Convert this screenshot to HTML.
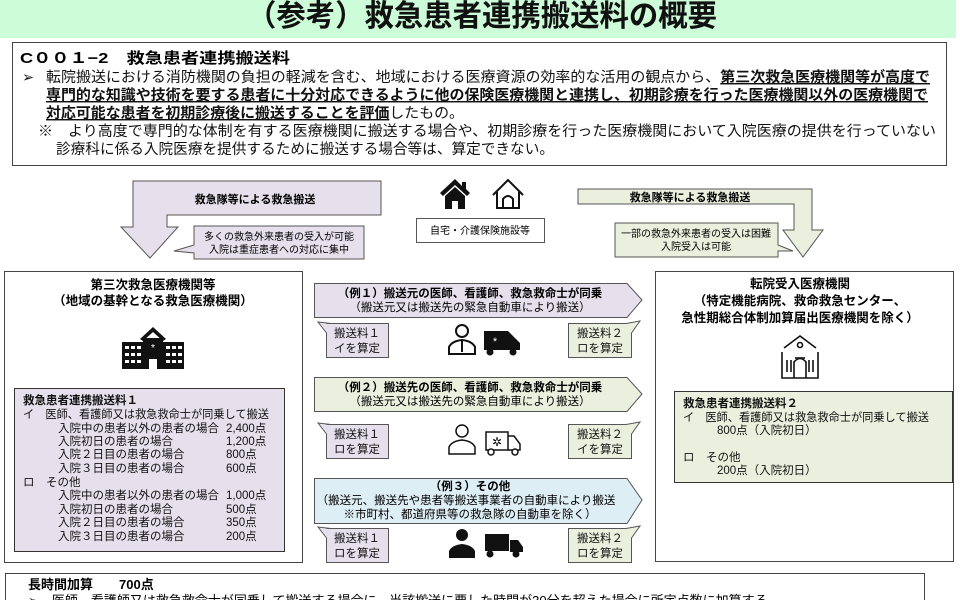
<!DOCTYPE html>
<html><head><meta charset="utf-8">
<style>
html,body{margin:0;padding:0;background:#fff;}
svg{display:block;font-family:"Liberation Sans","Noto Sans CJK JP",sans-serif;}
</style></head><body>
<svg width="960" height="600" viewBox="0 0 960 600" xmlns="http://www.w3.org/2000/svg">
<rect x="0" y="0" width="956" height="38" fill="#ccfcd8"/>
<text x="482" y="26" font-size="30" font-weight="bold" text-anchor="middle" fill="#111" textLength="470" lengthAdjust="spacingAndGlyphs">（参考）救急患者連携搬送料の概要</text>
<rect x="12.5" y="42.5" width="934" height="123" fill="#fff" stroke="#444"/>
<text x="20" y="63" font-size="15" font-weight="bold" textLength="270" lengthAdjust="spacingAndGlyphs">C００１−2　救急患者連携搬送料</text>
<g font-size="14.5" fill="#111">
<text x="22" y="82">➢</text>
<text x="46" y="82" textLength="884" lengthAdjust="spacingAndGlyphs">転院搬送における消防機関の負担の軽減を含む、地域における医療資源の効率的な活用の観点から、<tspan font-weight="bold" text-decoration="underline">第三次救急医療機関等が高度で</tspan></text>
<text x="46" y="100" font-weight="bold" text-decoration="underline" textLength="882" lengthAdjust="spacingAndGlyphs">専門的な知識や技術を要する患者に十分対応できるように他の保険医療機関と連携し、初期診療を行った医療機関以外の医療機関で</text>
<text x="46" y="118" textLength="418" lengthAdjust="spacingAndGlyphs"><tspan font-weight="bold" text-decoration="underline">対応可能な患者を初期診療後に搬送することを評価</tspan>したもの。</text>
<text x="38" y="136" textLength="898" lengthAdjust="spacingAndGlyphs">※　より高度で専門的な体制を有する医療機関に搬送する場合や、初期診療を行った医療機関において入院医療の提供を行っていない</text>
<text x="56" y="154" textLength="498" lengthAdjust="spacingAndGlyphs">診療科に係る入院医療を提供するために搬送する場合等は、算定できない。</text>
</g>
<path d="M381,181 L381,215 L167,215 L167,227 L178,227 L150,258 L121,227 L133,227 L133,181 Z" fill="#e6e0ec" stroke="#555"/>
<text x="255" y="203" font-size="11" font-weight="bold" text-anchor="middle">救急隊等による救急搬送</text>
<path d="M194,226 L364,226 L364,259 L194,259 L194,253 L174,251 L194,245 Z" fill="#e6e0ec" stroke="#555"/>
<text x="279" y="240" font-size="10" text-anchor="middle">多くの救急外来患者の受入が可能</text>
<text x="279" y="253" font-size="10" text-anchor="middle">入院は重症患者への対応に集中</text>
<g fill="#111">
<path d="M455,179 L440,193 L443,196 L455,185 L467,196 L470,193 L466,189 L466,182 L462,182 L462,186 Z"/>
<path d="M445,196 L455,187 L465,196 L465,209 L458,209 L458,201 L452,201 L452,209 L445,209 Z"/>
</g>
<g fill="none" stroke="#111" stroke-width="2">
<path d="M493,195 L508,180 L523,195"/>
<path d="M497,192 L497,208 L519,208 L519,192"/>
<path d="M503,208 L503,199 Q508,193 513,199 L513,208"/>
</g>
<rect x="416.5" y="218.5" width="128" height="24" fill="#fff" stroke="#555"/>
<text x="480" y="234" font-size="10" text-anchor="middle">自宅・介護保険施設等</text>
<path d="M578,189 L812,189 L812,230 L823,230 L803,257 L783,230 L794,230 L794,204 L578,204 Z" fill="#ebf0de" stroke="#555"/>
<text x="690" y="201" font-size="11" font-weight="bold" text-anchor="middle">救急隊等による救急搬送</text>
<path d="M615,223 L778,223 L778,245 L793,251 L778,251 L778,257 L615,257 Z" fill="#ebf0de" stroke="#555"/>
<text x="696" y="237" font-size="10" text-anchor="middle">一部の救急外来患者の受入は困難</text>
<text x="696" y="250" font-size="10" text-anchor="middle">入院受入は可能</text>
<rect x="4.5" y="271.5" width="298" height="291" fill="#fff" stroke="#444"/>
<text x="153" y="289" font-size="12.5" font-weight="bold" text-anchor="middle">第三次救急医療機関等</text>
<text x="153" y="305" font-size="12.5" font-weight="bold" text-anchor="middle">（地域の基幹となる救急医療機関）</text>
<g fill="#111">
<path d="M153,327 L140,339 L143,341 L153,332 L163,341 L166,339 Z"/>
<rect x="122" y="342" width="21" height="27"/>
<rect x="163" y="342" width="21" height="27"/>
<rect x="143" y="338" width="20" height="31"/>
</g>
<g fill="#fff">
<rect x="125" y="346" width="4" height="3"/><rect x="131" y="346" width="4" height="3"/><rect x="137" y="346" width="4" height="3"/>
<rect x="125" y="353" width="4" height="3"/><rect x="131" y="353" width="4" height="3"/><rect x="137" y="353" width="4" height="3"/>
<rect x="125" y="360" width="4" height="3"/><rect x="131" y="360" width="4" height="3"/><rect x="137" y="360" width="4" height="3"/>
<rect x="166" y="346" width="4" height="3"/><rect x="172" y="346" width="4" height="3"/><rect x="178" y="346" width="4" height="3"/>
<rect x="166" y="353" width="4" height="3"/><rect x="172" y="353" width="4" height="3"/><rect x="178" y="353" width="4" height="3"/>
<rect x="166" y="360" width="4" height="3"/><rect x="172" y="360" width="4" height="3"/><rect x="178" y="360" width="4" height="3"/>
<rect x="149" y="359" width="8" height="10"/>
<text x="153" y="351" font-size="10" text-anchor="middle">*</text>
</g>
<rect x="14.5" y="388.5" width="270" height="163" fill="#e6e0ec" stroke="#333"/>
<g font-size="11.5" fill="#111">
<text x="23" y="404" font-weight="bold">救急患者連携搬送料１</text>
<text x="23" y="418" textLength="246" lengthAdjust="spacingAndGlyphs">イ　医師、看護師又は救急救命士が同乗して搬送</text>
<text x="58" y="432">入院中の患者以外の患者の場合</text><text x="226" y="432">2,400点</text>
<text x="58" y="445">入院初日の患者の場合</text><text x="226" y="445">1,200点</text>
<text x="58" y="458">入院２日目の患者の場合</text><text x="226" y="458">800点</text>
<text x="58" y="472">入院３日目の患者の場合</text><text x="226" y="472">600点</text>
<text x="23" y="486">ロ　その他</text>
<text x="58" y="499">入院中の患者以外の患者の場合</text><text x="226" y="499">1,000点</text>
<text x="58" y="513">入院初日の患者の場合</text><text x="226" y="513">500点</text>
<text x="58" y="526">入院２日目の患者の場合</text><text x="226" y="526">350点</text>
<text x="58" y="540">入院３日目の患者の場合</text><text x="226" y="540">200点</text>
</g>
<path d="M314.5,283.5 L627,283.5 L642,300 L627,317.5 L314.5,317.5 Z" fill="#e6e0ec" stroke="#555"/>
<text x="470" y="297" font-size="11.5" font-weight="bold" text-anchor="middle">（例１）搬送元の医師、看護師、救急救命士が同乗</text>
<text x="470" y="311" font-size="11.5" text-anchor="middle">（搬送元又は搬送先の緊急自動車により搬送）</text>
<path d="M314.5,377.5 L627,377.5 L642,394 L627,411.5 L314.5,411.5 Z" fill="#ebf0de" stroke="#555"/>
<text x="470" y="391" font-size="11.5" font-weight="bold" text-anchor="middle">（例２）搬送先の医師、看護師、救急救命士が同乗</text>
<text x="470" y="405" font-size="11.5" text-anchor="middle">（搬送元又は搬送先の緊急自動車により搬送）</text>
<path d="M314.5,478.5 L627,478.5 L642,500 L627,523.5 L314.5,523.5 Z" fill="#deeef5" stroke="#555"/>
<text x="470" y="490" font-size="11.5" font-weight="bold" text-anchor="middle">（例３）その他</text>
<text x="466" y="504" font-size="11.5" text-anchor="middle">（搬送元、搬送先や患者等搬送事業者の自動車により搬送</text>
<text x="470" y="518" font-size="11.5" text-anchor="middle">※市町村、都道府県等の救急隊の自動車を除く）</text>
<g stroke="#555">
<path d="M326.5,323.5 L388.5,323.5 L388.5,357.5 L326.5,357.5 L326.5,333 L318,322 L331,323.5 Z" fill="#e6e0ec"/>
<path d="M568.5,323.5 L626,323.5 L640,321 L631.5,333 L631.5,357.5 L568.5,357.5 Z" fill="#ebf0de"/>
<path d="M326.5,424.5 L388.5,424.5 L388.5,458.5 L326.5,458.5 L326.5,434 L318,423 L331,424.5 Z" fill="#e6e0ec"/>
<path d="M568.5,424.5 L626,424.5 L640,422 L631.5,434 L631.5,458.5 L568.5,458.5 Z" fill="#ebf0de"/>
<path d="M326.5,528.5 L388.5,528.5 L388.5,562.5 L326.5,562.5 L326.5,538 L318,527 L331,528.5 Z" fill="#e6e0ec"/>
<path d="M568.5,528.5 L626,528.5 L640,526 L631.5,538 L631.5,562.5 L568.5,562.5 Z" fill="#ebf0de"/>
</g>
<g font-size="11.5" text-anchor="middle" fill="#111">
<text x="357" y="337">搬送料１</text><text x="357" y="352">イを算定</text>
<text x="600" y="337">搬送料２</text><text x="600" y="352">ロを算定</text>
<text x="357" y="438">搬送料１</text><text x="357" y="453">ロを算定</text>
<text x="600" y="438">搬送料２</text><text x="600" y="453">イを算定</text>
<text x="357" y="542">搬送料１</text><text x="357" y="557">ロを算定</text>
<text x="600" y="542">搬送料２</text><text x="600" y="557">ロを算定</text>
</g>
<g fill="none" stroke="#111" stroke-width="2">
<circle cx="462" cy="331" r="6"/>
<path d="M449,354 L449,347 Q452,341 462,340 Q472,341 475,347 L475,354 Z"/>
<path d="M462,340 L462,352"/>
</g>
<g fill="#111">
<path d="M484,331 L508,331 L513,336 L520,343 L520,350 L484,350 Z"/>
<circle cx="490" cy="352" r="3.5"/><circle cx="513" cy="352" r="3.5"/>
</g>
<text x="495" y="345" font-size="11" fill="#fff" text-anchor="middle">*</text>
<g fill="none" stroke="#111" stroke-width="1.5">
<circle cx="462" cy="431" r="6"/>
<path d="M449,454 L449,447 Q452,441 462,440 Q472,441 475,447 L475,454 Z"/>
<path d="M486,432 L508,432 L508,450 L486,450 Z"/>
<path d="M508,436 L514,436 L520,444 L520,450 L508,450"/>
<circle cx="491" cy="452" r="3" fill="#fff"/><circle cx="515" cy="452" r="3" fill="#fff"/>
</g>
<text x="497" y="446" font-size="12" text-anchor="middle">✲</text>
<g fill="#111">
<circle cx="462" cy="535" r="6"/>
<path d="M449,558 L449,551 Q452,545 462,544 Q472,545 475,551 L475,558 Z"/>
<rect x="485" y="534" width="24" height="17"/>
<path d="M510,540 L518,540 L523,547 L523,552 L510,552 Z"/>
<circle cx="490" cy="554" r="3.5"/><circle cx="516" cy="554" r="3.5"/>
</g>
<rect x="655.5" y="271.5" width="298" height="290" fill="#fff" stroke="#444"/>
<g font-size="12.5" font-weight="bold" text-anchor="middle">
<text x="800" y="288">転院受入医療機関</text>
<text x="800" y="305">（特定機能病院、救命救急センター、</text>
<text x="800" y="322">急性期総合体制加算届出医療機関を除く）</text>
</g>
<g fill="none" stroke="#111" stroke-width="1.6">
<path d="M784,348 L800,336 L816,348"/>
<circle cx="800" cy="345" r="2.5"/>
<path d="M782,352 L782,378 L818,378 L818,352"/>
<path d="M794,378 L794,362 Q800,355 806,362 L806,378"/>
<path d="M787,360 L787,372 M791,360 L791,372 M809,360 L809,372 M813,360 L813,372"/>
<path d="M795,358 L805,358"/>
</g>
<rect x="674.5" y="391.5" width="278" height="91" fill="#ebf0de" stroke="#333"/>
<g font-size="11.5" fill="#111">
<text x="683" y="407" font-weight="bold">救急患者連携搬送料２</text>
<text x="683" y="421" textLength="246" lengthAdjust="spacingAndGlyphs">イ　医師、看護師又は救急救命士が同乗して搬送</text>
<text x="717" y="434">800点（入院初日）</text>
<text x="683" y="461">ロ　その他</text>
<text x="717" y="474">200点（入院初日）</text>
</g>
<rect x="5.5" y="573.5" width="919" height="40" fill="#fff" stroke="#444"/>
<text x="28" y="589" font-size="13" font-weight="bold">長時間加算　　700点</text>
<text x="28" y="605" font-size="13">➢　医師、看護師又は救急救命士が同乗して搬送する場合に、当該搬送に要した時間が30分を超えた場合に所定点数に加算する。</text>
</svg>
</body></html>
